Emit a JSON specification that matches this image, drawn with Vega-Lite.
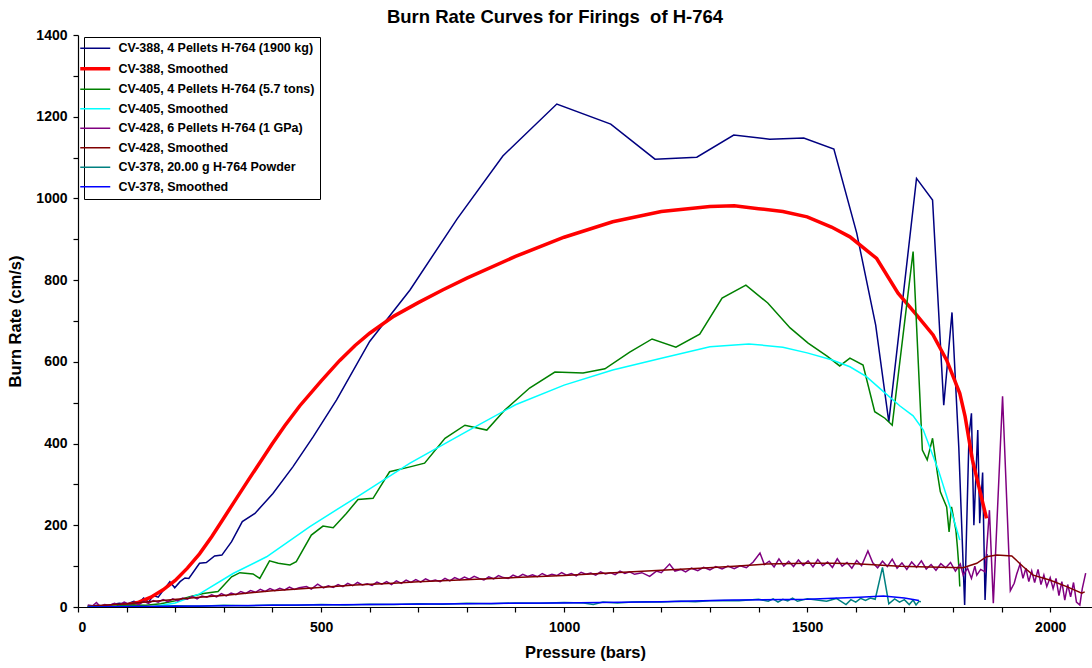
{
  "$schema": "https://vega.github.io/schema/vega-lite/v6.json",
  "autosize": {"type": "none"},
  "padding": {"left": 78, "top": 35, "right": 0, "bottom": 61},
  "width": 1014,
  "height": 572,
  "background": "white",
  "config": {
    "view": {"stroke": null},
    "font": "Liberation Sans",
    "axis": {"domainColor": "black", "tickColor": "black", "labelColor": "black", "titleColor": "black", "labelFont": "Liberation Sans", "titleFont": "Liberation Sans", "labelFontWeight": "bold", "titleFontWeight": "bold", "labelFontSize": 14, "titleFontSize": 16.5, "tickSize": 5, "grid": false, "domainWidth": 1.2, "tickWidth": 1.2}
  },
  "title": {"text": "Burn Rate Curves for Firings\u00a0 of H-764", "font": "Liberation Sans", "fontSize": 18.5, "fontWeight": "bold", "color": "black", "anchor": "middle", "frame": "group", "dx": -30, "offset": 2},
  "layer": [
    {
      "mark": {"type": "rule", "color": "#9a9a9a", "strokeWidth": 2},
      "encoding": {"y": {"datum": 1400, "type": "quantitative", "scale": {"domain": [0, 1400]}}}
    },
    {
      "data": {"values": [
        {"p":20,"r":2},{"p":40,"r":4},{"p":55,"r":2},{"p":70,"r":6},{"p":85,"r":9},{"p":100,"r":7},{"p":115,"r":14},{"p":125,"r":10},{"p":135,"r":22},{"p":145,"r":12},{"p":155,"r":28},{"p":165,"r":24},{"p":175,"r":40},{"p":189,"r":62},{"p":199,"r":47},{"p":210,"r":62},{"p":220,"r":71},{"p":228,"r":70},{"p":250,"r":107},{"p":264,"r":109},{"p":281,"r":125},{"p":296,"r":127},{"p":316,"r":160},{"p":338,"r":209},{"p":364,"r":229},{"p":401,"r":278},{"p":442,"r":343},{"p":484,"r":417},{"p":532,"r":507},{"p":600,"r":650},{"p":683,"r":776},{"p":780,"r":950},{"p":874,"r":1104},{"p":985,"r":1231},{"p":1096,"r":1182},{"p":1187,"r":1096},{"p":1273,"r":1101},{"p":1349,"r":1155},{"p":1423,"r":1145},{"p":1493,"r":1148},{"p":1555,"r":1121},{"p":1602,"r":915},{"p":1641,"r":690},{"p":1668,"r":453},{"p":1725,"r":1049},{"p":1758,"r":996},{"p":1781,"r":494},{"p":1798,"r":721},{"p":1812,"r":390},{"p":1824,"r":5},{"p":1833,"r":420},{"p":1838,"r":474},{"p":1843,"r":200},{"p":1851,"r":433},{"p":1855,"r":205},{"p":1861,"r":329},{"p":1866,"r":17},{"p":1870,"r":130}
      ]},
      "mark": {"type": "line", "strokeWidth": 1.5, "clip": true},
      "encoding": {
        "x": {"field": "p", "type": "quantitative"},
        "y": {"field": "r", "type": "quantitative"},
        "color": {"datum": "CV-388, 4 Pellets H-764 (1900 kg)"}
      }
    },
    {
      "data": {"values": [
        {"p":80,"r":0},{"p":100,"r":5},{"p":125,"r":12},{"p":150,"r":24},{"p":175,"r":42},{"p":200,"r":65},{"p":225,"r":95},{"p":250,"r":130},{"p":275,"r":172},{"p":300,"r":218},{"p":325,"r":264},{"p":350,"r":310},{"p":375,"r":355},{"p":400,"r":400},{"p":425,"r":443},{"p":456,"r":492},{"p":500,"r":553},{"p":538,"r":603},{"p":570,"r":640},{"p":600,"r":670},{"p":650,"r":712},{"p":700,"r":745},{"p":750,"r":776},{"p":800,"r":805},{"p":900,"r":858},{"p":1000,"r":905},{"p":1100,"r":943},{"p":1200,"r":968},{"p":1300,"r":980},{"p":1350,"r":982},{"p":1400,"r":975},{"p":1450,"r":968},{"p":1500,"r":955},{"p":1550,"r":930},{"p":1588,"r":906},{"p":1643,"r":853},{"p":1687,"r":768},{"p":1725,"r":715},{"p":1759,"r":666},{"p":1787,"r":604},{"p":1814,"r":523},{"p":1825,"r":466},{"p":1840,"r":360},{"p":1869,"r":217}
      ]},
      "mark": {"type": "line", "strokeWidth": 3.5, "clip": true},
      "encoding": {
        "x": {"field": "p", "type": "quantitative"},
        "y": {"field": "r", "type": "quantitative"},
        "color": {"datum": "CV-388, Smoothed"}
      }
    },
    {
      "data": {"values": [
        {"p":20,"r":0},{"p":50,"r":2},{"p":80,"r":3},{"p":110,"r":5},{"p":140,"r":4},{"p":170,"r":8},{"p":200,"r":15},{"p":230,"r":25},{"p":258,"r":33},{"p":288,"r":38},{"p":316,"r":74},{"p":333,"r":84},{"p":360,"r":81},{"p":374,"r":70},{"p":394,"r":113},{"p":412,"r":107},{"p":436,"r":103},{"p":449,"r":111},{"p":480,"r":176},{"p":504,"r":198},{"p":525,"r":194},{"p":552,"r":229},{"p":576,"r":263},{"p":607,"r":266},{"p":641,"r":331},{"p":683,"r":343},{"p":713,"r":352},{"p":755,"r":413},{"p":796,"r":445},{"p":841,"r":433},{"p":878,"r":482},{"p":929,"r":536},{"p":981,"r":575},{"p":1039,"r":573},{"p":1084,"r":583},{"p":1135,"r":624},{"p":1181,"r":656},{"p":1230,"r":636},{"p":1279,"r":668},{"p":1325,"r":756},{"p":1374,"r":788},{"p":1419,"r":744},{"p":1465,"r":683},{"p":1502,"r":646},{"p":1541,"r":614},{"p":1567,"r":590},{"p":1588,"r":609},{"p":1615,"r":592},{"p":1639,"r":478},{"p":1660,"r":462},{"p":1675,"r":445},{"p":1718,"r":870},{"p":1737,"r":384},{"p":1747,"r":360},{"p":1758,"r":413},{"p":1768,"r":327},{"p":1774,"r":282},{"p":1787,"r":245},{"p":1792,"r":184},{"p":1797,"r":245},{"p":1806,"r":188},{"p":1809,"r":148},{"p":1812,"r":100},{"p":1814,"r":50}
      ]},
      "mark": {"type": "line", "strokeWidth": 1.5, "clip": true},
      "encoding": {
        "x": {"field": "p", "type": "quantitative"},
        "y": {"field": "r", "type": "quantitative"},
        "color": {"datum": "CV-405, 4 Pellets H-764 (5.7 tons)"}
      }
    },
    {
      "data": {"values": [
        {"p":150,"r":0},{"p":200,"r":10},{"p":250,"r":32},{"p":319,"r":82},{"p":388,"r":123},{"p":477,"r":197},{"p":580,"r":274},{"p":683,"r":352},{"p":800,"r":430},{"p":900,"r":495},{"p":1000,"r":543},{"p":1100,"r":580},{"p":1200,"r":609},{"p":1300,"r":637},{"p":1380,"r":644},{"p":1450,"r":636},{"p":1500,"r":622},{"p":1550,"r":605},{"p":1588,"r":588},{"p":1622,"r":564},{"p":1657,"r":527},{"p":1691,"r":492},{"p":1718,"r":468},{"p":1739,"r":433},{"p":1770,"r":335},{"p":1794,"r":245},{"p":1814,"r":164}
      ]},
      "mark": {"type": "line", "strokeWidth": 1.5, "clip": true},
      "encoding": {
        "x": {"field": "p", "type": "quantitative"},
        "y": {"field": "r", "type": "quantitative"},
        "color": {"datum": "CV-405, Smoothed"}
      }
    },
    {
      "data": {"values": [
        {"p":20,"r":5},{"p":30,"r":3},{"p":38,"r":11},{"p":45,"r":2},{"p":55,"r":6},{"p":65,"r":4},{"p":75,"r":9},{"p":85,"r":5},{"p":95,"r":12},{"p":105,"r":7},{"p":115,"r":10},{"p":125,"r":6},{"p":135,"r":14},{"p":145,"r":9},{"p":155,"r":16},{"p":165,"r":12},{"p":175,"r":18},{"p":185,"r":13},{"p":195,"r":20},{"p":205,"r":15},{"p":215,"r":22},{"p":225,"r":19},{"p":235,"r":26},{"p":245,"r":20},{"p":255,"r":27},{"p":265,"r":24},{"p":275,"r":30},{"p":285,"r":25},{"p":295,"r":33},{"p":305,"r":27},{"p":315,"r":34},{"p":325,"r":30},{"p":335,"r":38},{"p":345,"r":33},{"p":355,"r":40},{"p":365,"r":36},{"p":375,"r":43},{"p":385,"r":38},{"p":395,"r":45},{"p":405,"r":40},{"p":415,"r":46},{"p":425,"r":42},{"p":435,"r":49},{"p":445,"r":43},{"p":455,"r":47},{"p":470,"r":50},{"p":480,"r":44},{"p":493,"r":56},{"p":505,"r":47},{"p":515,"r":52},{"p":525,"r":48},{"p":535,"r":55},{"p":545,"r":50},{"p":555,"r":58},{"p":565,"r":52},{"p":575,"r":60},{"p":585,"r":54},{"p":595,"r":57},{"p":605,"r":53},{"p":615,"r":61},{"p":625,"r":56},{"p":635,"r":62},{"p":645,"r":55},{"p":655,"r":64},{"p":665,"r":58},{"p":675,"r":66},{"p":685,"r":60},{"p":695,"r":67},{"p":705,"r":61},{"p":715,"r":69},{"p":725,"r":63},{"p":735,"r":66},{"p":745,"r":62},{"p":755,"r":70},{"p":765,"r":64},{"p":775,"r":72},{"p":785,"r":67},{"p":795,"r":73},{"p":805,"r":68},{"p":815,"r":75},{"p":825,"r":70},{"p":835,"r":66},{"p":845,"r":74},{"p":855,"r":69},{"p":865,"r":77},{"p":875,"r":72},{"p":885,"r":70},{"p":895,"r":78},{"p":905,"r":73},{"p":915,"r":80},{"p":925,"r":75},{"p":935,"r":79},{"p":945,"r":74},{"p":955,"r":82},{"p":965,"r":76},{"p":975,"r":80},{"p":985,"r":77},{"p":995,"r":84},{"p":1005,"r":78},{"p":1015,"r":82},{"p":1025,"r":76},{"p":1035,"r":85},{"p":1045,"r":80},{"p":1055,"r":83},{"p":1065,"r":78},{"p":1075,"r":86},{"p":1085,"r":81},{"p":1095,"r":84},{"p":1105,"r":79},{"p":1115,"r":88},{"p":1125,"r":82},{"p":1135,"r":86},{"p":1145,"r":80},{"p":1160,"r":84},{"p":1176,"r":75},{"p":1190,"r":88},{"p":1200,"r":84},{"p":1217,"r":105},{"p":1228,"r":88},{"p":1240,"r":92},{"p":1250,"r":86},{"p":1262,"r":95},{"p":1275,"r":89},{"p":1287,"r":97},{"p":1300,"r":91},{"p":1312,"r":99},{"p":1325,"r":93},{"p":1337,"r":100},{"p":1350,"r":94},{"p":1362,"r":101},{"p":1375,"r":96},{"p":1389,"r":110},{"p":1403,"r":132},{"p":1412,"r":104},{"p":1422,"r":112},{"p":1432,"r":98},{"p":1442,"r":118},{"p":1452,"r":100},{"p":1462,"r":112},{"p":1472,"r":99},{"p":1482,"r":115},{"p":1492,"r":102},{"p":1502,"r":113},{"p":1512,"r":98},{"p":1522,"r":116},{"p":1532,"r":101},{"p":1542,"r":110},{"p":1552,"r":97},{"p":1562,"r":118},{"p":1572,"r":100},{"p":1582,"r":109},{"p":1592,"r":95},{"p":1602,"r":114},{"p":1612,"r":101},{"p":1625,"r":137},{"p":1635,"r":108},{"p":1645,"r":96},{"p":1655,"r":112},{"p":1665,"r":99},{"p":1675,"r":117},{"p":1685,"r":95},{"p":1695,"r":108},{"p":1705,"r":92},{"p":1715,"r":110},{"p":1725,"r":97},{"p":1735,"r":113},{"p":1745,"r":93},{"p":1755,"r":104},{"p":1765,"r":90},{"p":1775,"r":106},{"p":1785,"r":96},{"p":1795,"r":109},{"p":1805,"r":88},{"p":1815,"r":105},{"p":1821,"r":78},{"p":1830,"r":95},{"p":1838,"r":70},{"p":1845,"r":100},{"p":1849,"r":78},{"p":1857,"r":92},{"p":1866,"r":86},{"p":1875,"r":237},{"p":1883,"r":9},{"p":1902,"r":516},{"p":1918,"r":40},{"p":1926,"r":58},{"p":1931,"r":80},{"p":1938,"r":105},{"p":1944,"r":70},{"p":1950,"r":95},{"p":1956,"r":62},{"p":1962,"r":88},{"p":1968,"r":60},{"p":1975,"r":92},{"p":1981,"r":55},{"p":1987,"r":78},{"p":1993,"r":50},{"p":2000,"r":72},{"p":2006,"r":45},{"p":2012,"r":70},{"p":2018,"r":28},{"p":2024,"r":62},{"p":2030,"r":17},{"p":2036,"r":55},{"p":2042,"r":25},{"p":2048,"r":60},{"p":2054,"r":12},{"p":2061,"r":5},{"p":2066,"r":45},{"p":2073,"r":83}
      ]},
      "mark": {"type": "line", "strokeWidth": 1.5, "clip": true},
      "encoding": {
        "x": {"field": "p", "type": "quantitative"},
        "y": {"field": "r", "type": "quantitative"},
        "color": {"datum": "CV-428, 6 Pellets H-764 (1 GPa)"}
      }
    },
    {
      "data": {"values": [
        {"p":20,"r":2},{"p":100,"r":8},{"p":168,"r":15},{"p":250,"r":24},{"p":305,"r":29},{"p":400,"r":40},{"p":497,"r":48},{"p":570,"r":54},{"p":648,"r":58},{"p":700,"r":62},{"p":785,"r":66},{"p":900,"r":72},{"p":1000,"r":77},{"p":1073,"r":82},{"p":1200,"r":90},{"p":1279,"r":95},{"p":1350,"r":100},{"p":1416,"r":105},{"p":1500,"r":107},{"p":1554,"r":107},{"p":1600,"r":106},{"p":1691,"r":100},{"p":1750,"r":98},{"p":1821,"r":96},{"p":1849,"r":107},{"p":1869,"r":123},{"p":1890,"r":127},{"p":1921,"r":125},{"p":1944,"r":99},{"p":1965,"r":78},{"p":1999,"r":66},{"p":2034,"r":50},{"p":2065,"r":34},{"p":2071,"r":37}
      ]},
      "mark": {"type": "line", "strokeWidth": 1.5, "clip": true},
      "encoding": {
        "x": {"field": "p", "type": "quantitative"},
        "y": {"field": "r", "type": "quantitative"},
        "color": {"datum": "CV-428, Smoothed"}
      }
    },
    {
      "data": {"values": [
        {"p":20,"r":1},{"p":60,"r":0},{"p":100,"r":2},{"p":150,"r":1},{"p":200,"r":3},{"p":250,"r":2},{"p":300,"r":4},{"p":350,"r":3},{"p":400,"r":5},{"p":450,"r":4},{"p":500,"r":6},{"p":550,"r":5},{"p":600,"r":7},{"p":650,"r":6},{"p":700,"r":8},{"p":750,"r":7},{"p":800,"r":9},{"p":850,"r":8},{"p":900,"r":10},{"p":950,"r":9},{"p":1000,"r":11},{"p":1040,"r":10},{"p":1060,"r":6},{"p":1080,"r":12},{"p":1110,"r":10},{"p":1140,"r":12},{"p":1170,"r":13},{"p":1200,"r":12},{"p":1240,"r":14},{"p":1270,"r":13},{"p":1300,"r":15},{"p":1330,"r":16},{"p":1360,"r":15},{"p":1400,"r":19},{"p":1420,"r":14},{"p":1430,"r":20},{"p":1440,"r":12},{"p":1450,"r":19},{"p":1460,"r":15},{"p":1470,"r":22},{"p":1480,"r":14},{"p":1500,"r":20},{"p":1520,"r":17},{"p":1540,"r":14},{"p":1560,"r":21},{"p":1580,"r":6},{"p":1590,"r":18},{"p":1600,"r":12},{"p":1610,"r":21},{"p":1620,"r":16},{"p":1630,"r":22},{"p":1640,"r":19},{"p":1655,"r":97},{"p":1668,"r":8},{"p":1680,"r":20},{"p":1690,"r":12},{"p":1700,"r":18},{"p":1710,"r":6},{"p":1718,"r":17},{"p":1724,"r":5},{"p":1730,"r":14},{"p":1734,"r":13}
      ]},
      "mark": {"type": "line", "strokeWidth": 1.5, "clip": true},
      "encoding": {
        "x": {"field": "p", "type": "quantitative"},
        "y": {"field": "r", "type": "quantitative"},
        "color": {"datum": "CV-378, 20.00 g H-764 Powder"}
      }
    },
    {
      "data": {"values": [
        {"p":20,"r":0},{"p":200,"r":2},{"p":400,"r":4},{"p":600,"r":6},{"p":800,"r":8},{"p":991,"r":10},{"p":1073,"r":11},{"p":1200,"r":13},{"p":1348,"r":17},{"p":1500,"r":19},{"p":1608,"r":24},{"p":1657,"r":27},{"p":1700,"r":22},{"p":1730,"r":16}
      ]},
      "mark": {"type": "line", "strokeWidth": 1.5, "clip": true},
      "encoding": {
        "x": {
          "field": "p", "type": "quantitative",
          "scale": {"domain": [0, 2086], "nice": false, "zero": false},
          "axis": {"values": [0,100,200,300,400,500,600,700,800,900,1000,1100,1200,1300,1400,1500,1600,1700,1800,1900,2000], "labelExpr": "datum.value % 500 === 0 ? datum.label : ''", "format": "d", "labelPadding": 8, "title": "Pressure (bars)", "titlePadding": 10}
        },
        "y": {
          "field": "r", "type": "quantitative",
          "scale": {"domain": [0, 1400], "nice": false},
          "axis": {"values": [0,100,200,300,400,500,600,700,800,900,1000,1100,1200,1300,1400], "labelExpr": "datum.value % 200 === 0 ? datum.label : ''", "format": "d", "labelPadding": 6, "title": "Burn Rate (cm/s)", "titlePadding": 12}
        },
        "color": {
          "datum": "CV-378, Smoothed",
          "scale": {
            "domain": ["CV-388, 4 Pellets H-764 (1900 kg)", "CV-388, Smoothed", "CV-405, 4 Pellets H-764 (5.7 tons)", "CV-405, Smoothed", "CV-428, 6 Pellets H-764 (1 GPa)", "CV-428, Smoothed", "CV-378, 20.00 g H-764 Powder", "CV-378, Smoothed"],
            "range": ["#000080", "#ff0000", "#008000", "#00ffff", "#800080", "#800000", "#008080", "#0000ff"]
          },
          "legend": {
            "title": null, "orient": "none", "legendX": 6, "legendY": 2, "padding": 5,
            "strokeColor": "black", "fillColor": "white",
            "symbolType": "stroke", "symbolSize": 900, "symbolStrokeWidth": 1.5,
            "labelFont": "Liberation Sans", "labelFontWeight": "bold", "labelFontSize": 12.5, "labelColor": "black", "labelOffset": 17, "labelLimit": 400,
            "rowPadding": 6.5,
            "encode": {
              "legend": {"update": {"strokeWidth": {"value": 1}}},
              "symbols": {"update": {"strokeWidth": {"signal": "datum.value === 'CV-388, Smoothed' ? 3.5 : 1.5"}}}
            }
          }
        }
      }
    }
  ]
}
